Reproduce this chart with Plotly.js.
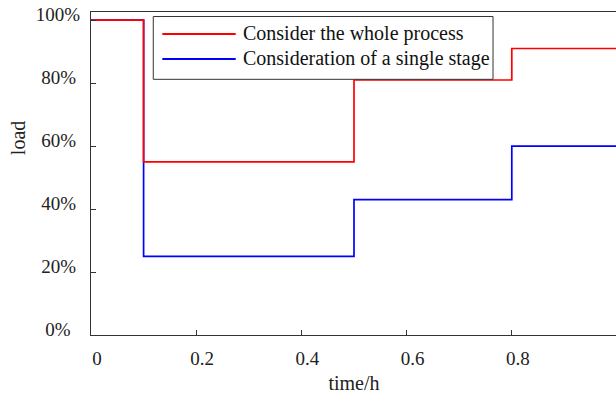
<!DOCTYPE html>
<html>
<head>
<meta charset="utf-8">
<script src="https://cdn.plot.ly/plotly-3.0.1.min.js"></script>
<style>
  html, body { margin: 0; padding: 0; overflow: hidden; background: #fff; }
  #chart { width: 617px; height: 394px; }
</style>
</head>
<body>
<div id="chart"></div>
<script>
// ---- data ----
const timeH = [0, 0.1, 0.5, 0.8, 1.0];
const wholeProcess = [1.0, 0.55, 0.81, 0.91, 0.91];
const singleStage = [1.0, 0.25, 0.43, 0.60, 0.60];
const seriesNames = ['Consider the whole process', 'Consideration of a single stage'];
const xTickVals = [0, 0.2, 0.4, 0.6, 0.8];
const yTickVals = [0, 0.2, 0.4, 0.6, 0.8, 1.0];
const yTickLabels = ['0%\u2002', '20%\u2009', '40%\u2009', '60%\u2009', '80%\u2009', '100%'];

const FONT = 'Liberation Serif';
const AXC = '#333333';

const traces = [
  { x: timeH, y: singleStage, name: seriesNames[1], mode: 'lines',
    line: { shape: 'hv', color: '#0000ff', width: 1.7 }, showlegend: false },
  { x: timeH, y: wholeProcess, name: seriesNames[0], mode: 'lines',
    line: { shape: 'hv', color: '#ff0000', width: 1.7 }, showlegend: false }
];

// manual legend (paper coords)
const legBox = { x0: 0.1184, x1: 0.7643, y0: 0.7916, y1: 0.986 };
const legRows = [
  { y: 0.9319, color: '#ff0000', text: seriesNames[0] },
  { y: 0.8545, color: '#0000ff', text: seriesNames[1] }
];
const shapes = [
  { type: 'rect', xref: 'paper', yref: 'paper', x0: legBox.x0, x1: legBox.x1, y0: legBox.y0, y1: legBox.y1,
    line: { color: AXC, width: 1 }, fillcolor: '#ffffff', layer: 'above' }
];
const annotations = [
  { text: 'load', xref: 'paper', yref: 'paper', x: -0.1397, y: 0.608, textangle: -90,
    xanchor: 'center', yanchor: 'middle',
    showarrow: false, font: { family: FONT, size: 20, color: '#222' } }
];
legRows.forEach(r => {
  shapes.push({ type: 'line', xref: 'paper', yref: 'paper', x0: 0.1356, x1: 0.2751, y0: r.y, y1: r.y,
    line: { color: r.color, width: 2 }, layer: 'above' });
  annotations.push({ text: r.text, xref: 'paper', yref: 'paper', x: 0.2858, y: r.y,
    xanchor: 'left', yanchor: 'middle', showarrow: false,
    font: { family: FONT, size: 20, color: '#111' } });
});

const layout = {
  width: 617, height: 394,
  margin: { l: 91, r: 0, t: 12, b: 59 },
  paper_bgcolor: '#fff', plot_bgcolor: '#fff',
  font: { family: FONT, size: 19, color: '#222' },
  showlegend: false,
  xaxis: {
    range: [0, 1], tickvals: xTickVals, ticks: 'inside', ticklen: 5, tickcolor: AXC,
    showline: true, linecolor: AXC, linewidth: 1.2, mirror: true,
    showgrid: false, zeroline: false, ticklabelshift: 6, ticklabelstandoff: 6,
    tickfont: { family: FONT, size: 19, color: '#222' },
    title: { text: 'time/h', font: { family: FONT, size: 20, color: '#222' }, standoff: 8 }
  },
  yaxis: {
    range: [0, 1.026], tickvals: yTickVals, ticktext: yTickLabels, ticks: 'inside', ticklen: 5, tickcolor: AXC,
    showline: true, linecolor: AXC, linewidth: 1.2, mirror: true,
    showgrid: false, zeroline: false, ticklabelshift: -6, ticklabelstandoff: 6,
    tickfont: { family: FONT, size: 19, color: '#222' }
  },
  shapes: shapes,
  annotations: annotations
};

Plotly.newPlot('chart', traces, layout, { displayModeBar: false, staticPlot: true });
</script>
</body>
</html>
